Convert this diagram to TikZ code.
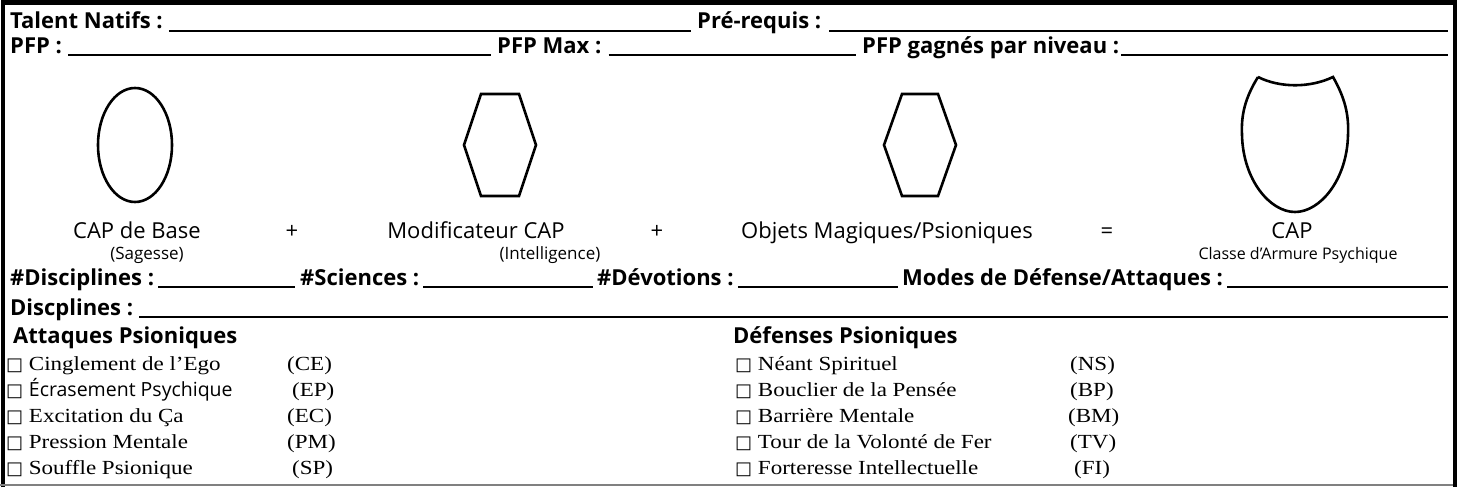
\documentclass[tikz,border=0pt]{standalone}
\usepackage{fontspec}
\setmainfont{Liberation Serif}[FakeStretch=1.15]
\newfontfamily\hsans{Open Sans}
\newfontfamily\symb{DejaVu Sans}
\tikzset{
  hd/.style={inner sep=0pt,anchor=base west,font=\hsans\bfseries\fontsize{22}{22}\selectfont},
  lbl/.style={inner sep=0pt,anchor=base,font=\hsans\fontsize{22}{22}\selectfont},
  sub/.style={inner sep=0pt,anchor=base,font=\hsans\fontsize{17}{17}\selectfont},
  itm/.style={inner sep=0pt,anchor=base west,font=\fontsize{20}{20}\selectfont},
  uline/.style={line width=1.3pt},
  outl/.style={line width=2.6pt,line join=miter}
}
\newcommand{\bx}{{\symb\fontsize{18}{18}\selectfont□}\ }
\begin{document}
\begin{tikzpicture}[x=1pt,y=-1pt]
	\useasboundingbox (0,0) rectangle (1458,487);
	% frame
	\draw[line width=4.5pt] (3,487)--(3,2.5)--(1455,2.5)--(1455,487);
	\draw[gray,line width=1.5pt] (0,485)--(1453,485);
	% top rows
	\node[hd] (tn) at (10,29) {Talent Natifs :};
	\node[hd] (pr) at (697,29) {Pré-requis :};
	\coordinate (e1) at (1448,31);
	\draw[uline] ([xshift=6pt,yshift=-2pt]tn.base east)--([xshift=-6pt,yshift=-2pt]pr.base west);
	\draw[uline] ([xshift=8pt,yshift=-2pt]pr.base east)--(e1);
	\node[hd] (pfp) at (10,53) {PFP :};
	\node[hd] (pmax) at (497,53) {PFP Max :};
	\node[hd] (pniv) at (862,53) {PFP gagnés par niveau :};
	\coordinate (e2) at (1448,55);
	\draw[uline] ([xshift=6pt,yshift=-2pt]pfp.base east)--([xshift=-6pt,yshift=-2pt]pmax.base west);
	\draw[uline] ([xshift=7pt,yshift=-2pt]pmax.base east)--([xshift=-6pt,yshift=-2pt]pniv.base west);
	\draw[uline] ([xshift=2pt,yshift=-2pt]pniv.base east)--(e2);
	% shapes
	\draw[outl] (135,145) ellipse (37 and 57);
	\draw[outl] (481,94)--(519,94)--(536,145)--(519,196)--(481,196)--(464,145)--cycle;
	\draw[outl] (902,94)--(938,94)--(956,145)--(938,196)--(902,196)--(884,145)--cycle;
	\draw[outl] (1258,77) .. controls (1280,88) and (1310,88) .. (1333,77)
		.. controls (1345,98) and (1349,115) .. (1348,135)
		.. controls (1347,180) and (1320,212) .. (1295,212)
		.. controls (1270,212) and (1243,180) .. (1242,135)
		.. controls (1241,115) and (1245,98) .. (1258,77);
	% labels
	\node[lbl] (cb) at (137,238) {CAP de Base};
	\node[lbl] (p1) at (292,238) {+};
	\node[lbl] (mc) at (476,238) {Modificateur CAP};
	\node[lbl] (p2) at (657,238) {+};
	\node[lbl] (om) at (887,238) {Objets Magiques/Psioniques};
	\node[lbl] (eq) at (1107,238) {=};
	\node[lbl] (ca) at (1292,238) {CAP};
	\node[sub] at (147,259) {(Sagesse)};
	\node[sub] at (550,259) {(Intelligence)};
	\node[sub,font=\hsans\fontsize{16}{16}\selectfont] at (1298,259) {Classe d’Armure Psychique};
	% disciplines
	\node[hd] (nd) at (10,285) {\#Disciplines :};
	\node[hd] (ns) at (300,285) {\#Sciences :};
	\node[hd] (nv) at (597,285) {\#Dévotions :};
	\node[hd] (nm) at (902,285) {Modes de Défense/Attaques :};
	\coordinate (e3) at (1448,287);
	\draw[uline] ([xshift=4pt,yshift=-2pt]nd.base east)--([xshift=-5pt,yshift=-2pt]ns.base west);
	\draw[uline] ([xshift=4pt,yshift=-2pt]ns.base east)--([xshift=-4pt,yshift=-2pt]nv.base west);
	\draw[uline] ([xshift=4pt,yshift=-2pt]nv.base east)--([xshift=-4pt,yshift=-2pt]nm.base west);
	\draw[uline] ([xshift=4pt,yshift=-2pt]nm.base east)--(e3);
	\node[hd] (dl) at (10,315) {Discplines :};
	\coordinate (e4) at (1448,317);
	\draw[uline] ([xshift=6pt,yshift=-2pt]dl.base east)--(e4);
	% attaques / defenses
	\node[hd] (att) at (13,343) {Attaques Psioniques};
	\node[hd] (def) at (733,343) {Défenses Psioniques};
	\node[itm] (a1) at (6,370) {\bx Cinglement de l’Ego};
	\node[itm] (a2) at (6,396) {\bx{\fontsize{19.5}{19.5}\hsans Écrasement Psychique}};
	\node[itm] (a3) at (6,422) {\bx Excitation du Ça};
	\node[itm] (a4) at (6,448) {\bx Pression Mentale};
	\node[itm] (a5) at (6,474) {\bx Souffle Psionique};
	\node[itm] (c1) at (287,370) {(CE)};
	\node[itm] (c2) at (292,396) {(EP)};
	\node[itm] (c3) at (287,422) {(EC)};
	\node[itm] (c4) at (287,448) {(PM)};
	\node[itm] (c5) at (292,474) {(SP)};
	\node[itm] (d1) at (735,370) {\bx Néant Spirituel};
	\node[itm] (d2) at (735,396) {\bx Bouclier de la Pensée};
	\node[itm] (d3) at (735,422) {\bx Barrière Mentale};
	\node[itm] (d4) at (735,448) {\bx Tour de la Volonté de Fer};
	\node[itm] (d5) at (735,474) {\bx Forteresse Intellectuelle};
	\node[itm] (k1) at (1070,370) {(NS)};
	\node[itm] (k2) at (1070,396) {(BP)};
	\node[itm] (k3) at (1068,422) {(BM)};
	\node[itm] (k4) at (1070,448) {(TV)};
	\node[itm] (k5) at (1074,474) {(FI)};
\end{tikzpicture}
\end{document}
